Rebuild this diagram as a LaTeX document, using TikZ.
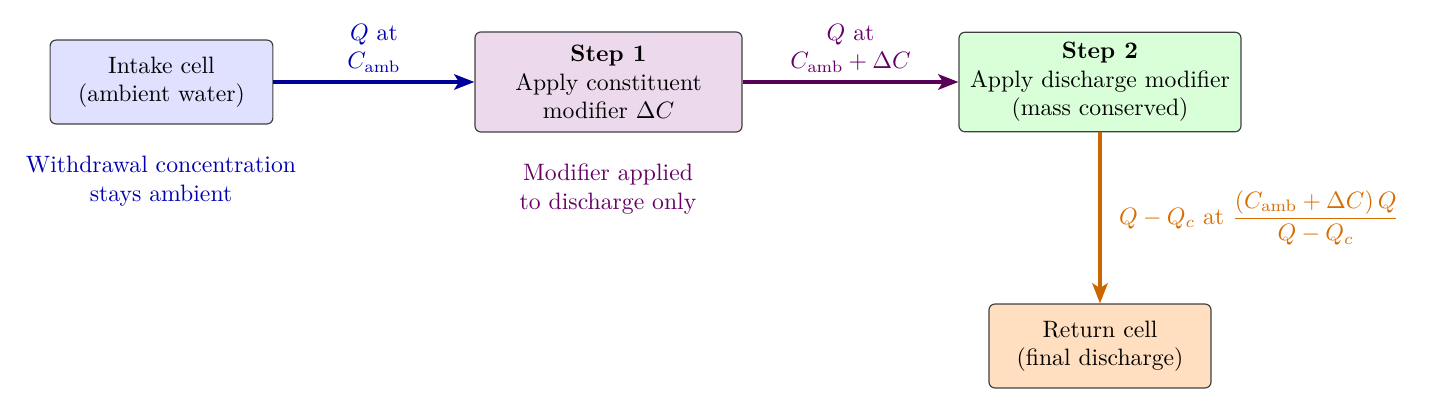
\documentclass[tikz,border=0pt]{standalone}
\usetikzlibrary{arrows.meta}
\begin{document}
\begin{tikzpicture}[x=0.422pt,y=-0.422pt,
  box/.style={draw=black!75, rounded corners=2.5pt, align=center, inner sep=3pt, line width=0.5pt},
  flow/.style={line width=1.5pt, -{Stealth[length=8.5pt,width=6.5pt,inset=2pt]}},
  lab/.style={align=center}]
\useasboundingbox (0,0) rectangle (1430,409);
\node[box, fill=blue!12, minimum width=94pt, minimum height=35.4pt] (intake) at (161.5,82) {Intake cell\\(ambient water)};
\node[box, fill=violet!15, minimum width=112.7pt, minimum height=42.2pt] (step1) at (608.5,82) {\textbf{Step 1}\\Apply constituent\\modifier $\Delta C$};
\node[box, fill=green!15, minimum width=119pt, minimum height=42pt] (step2) at (1100,82) {\textbf{Step 2}\\Apply discharge modifier\\(mass conserved)};
\node[box, fill=orange!25, minimum width=93.7pt, minimum height=35.4pt] (ret) at (1100,346) {Return cell\\(final discharge)};
\draw[flow, blue!60!black] (intake) -- node[lab, above, text=blue!70!black] (l1) {$Q$ at\\$C_{\mathrm{amb}}$} (step1);
\draw[flow, violet!70!black] (step1) -- node[lab, above, text=violet!80!black] (l2) {$Q$ at\\$C_{\mathrm{amb}}+\Delta C$} (step2);
\draw[flow, orange!80!black] (step2) -- node[right, xshift=4pt, text=orange!85!black] (l3) {$Q-Q_c$ at $\displaystyle\frac{(C_{\mathrm{amb}}+\Delta C)\,Q}{Q-Q_c}$} (ret);
\node[lab, text=blue!70!black] (n1) at (161,181) {Withdrawal concentration\\stays ambient};
\node[lab, text=violet!80!black] (n2) at (608,189) {Modifier applied\\to discharge only};
\end{tikzpicture}
\end{document}
